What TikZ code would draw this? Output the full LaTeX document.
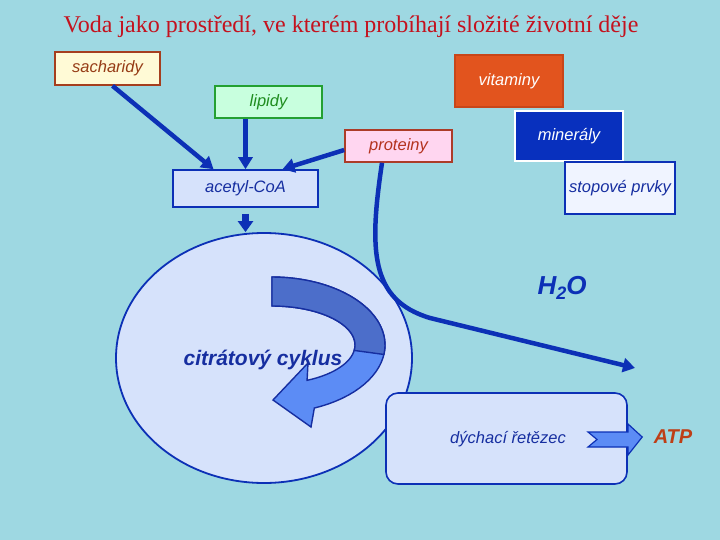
\documentclass[tikz,border=0pt]{standalone}
\usepackage{fontspec}
\setmainfont{Liberation Serif}
\setsansfont{Liberation Sans}
\usetikzlibrary{arrows.meta,shapes.geometric}
\definecolor{voda}{RGB}{158,216,226}
\definecolor{modra}{RGB}{12,48,182}
\definecolor{inkoust}{RGB}{22,46,160}
\definecolor{svetla}{RGB}{214,226,251}
\definecolor{kruhtmavy}{RGB}{76,110,202}
\definecolor{kruhsvetly}{RGB}{92,140,245}
\tikzset{
  ramecek/.style={rectangle, inner sep=0pt, line width=1.6pt, font=\sffamily\itshape\fontsize{16.5}{19}\selectfont},
  sipka/.style={draw=modra, line width=4.5pt, -{Triangle[length=12pt,width=14pt]}},
  tucne/.style={font=\sffamily\bfseries\itshape\fontsize{#1}{#1}\selectfont},
}
\begin{document}
\begin{tikzpicture}[x=1pt,y=-1pt]
\fill[voda] (0,0) rectangle (720,540);
\useasboundingbox (0,0) rectangle (720,540);
\node[font=\fontsize{24}{27}\selectfont, text={rgb,255:red,196;green,18;blue,30}] (nadpis) at (351,27) {Voda jako prostředí, ve kterém probíhají složité životní děje};
\node[ramecek, draw={rgb,255:red,165;green,62;blue,30}, fill={rgb,255:red,255;green,250;blue,214}, text={rgb,255:red,150;green,60;blue,22}, minimum width=105pt, minimum height=33pt] (sacharidy) at (107.5,68.5) {sacharidy};
\node[ramecek, draw={rgb,255:red,200;green,70;blue,25}, fill={rgb,255:red,226;green,84;blue,30}, text=white, minimum width=108pt, minimum height=52pt] (vitaminy) at (509,81) {vitaminy};
\node[ramecek, draw={rgb,255:red,36;green,160;blue,50}, fill={rgb,255:red,200;green,255;blue,222}, text={rgb,255:red,30;green,140;blue,30}, minimum width=107pt, minimum height=32pt] (lipidy) at (268.5,102) {lipidy};
\node[ramecek, draw={rgb,255:red,172;green,60;blue,40}, fill={rgb,255:red,255;green,214;blue,240}, text={rgb,255:red,180;green,50;blue,30}, minimum width=107pt, minimum height=32pt] (proteiny) at (398.5,146) {proteiny};
\node[ramecek, draw=white, fill={rgb,255:red,8;green,48;blue,190}, text=white, minimum width=108pt, minimum height=50pt] (mineraly) at (569,136) {minerály};
\node[ramecek, draw=modra, fill={rgb,255:red,240;green,244;blue,255}, text=inkoust, minimum width=110pt, minimum height=52pt] (stopove) at (620,188) {stopové prvky};
\node[ramecek, draw=modra, fill=svetla, text=inkoust, minimum width=145pt, minimum height=37pt] (acetyl) at (245.5,188.5) {acetyl-CoA};
\draw[sipka] ([xshift=5pt]sacharidy.south) -- ([xshift=-32pt]acetyl.north);
\draw[sipka] (lipidy.south -| acetyl.north) -- (acetyl.north);
\draw[sipka] ([yshift=-4pt]proteiny.west) -- ([xshift=37pt]acetyl.north);
\node[ellipse, draw=modra, fill=svetla, line width=1.8pt, minimum width=296pt, minimum height=250pt] (cyklus) at (264,358) {};
\coordinate (vydej) at (635,368);
\draw[sipka] ([xshift=-16.5pt]proteiny.south) .. controls (369,250) and (370,300) .. (430,318) -- (vydej);
\draw[draw=modra, line width=7pt, -{Triangle[length=11pt,width=15pt]}, shorten <=6pt] (acetyl.south) -- (acetyl.south |- cyklus.north);
\path[fill=kruhsvetly, draw=inkoust, line width=1.4pt] plot[domain=-90:68,samples=40,variable=\t] ({272+113*cos(\t)},{345+68*sin(\t)}) -- (311,427) -- (273,400) -- (308,363) -- plot[domain=65:-90,samples=40,variable=\t] ({272+83*cos(\t)},{345+39*sin(\t)}) -- cycle;
\path[fill=kruhtmavy, draw=inkoust, line width=1.4pt] plot[domain=-90:8,samples=30,variable=\t] ({272+113*cos(\t)},{345+68*sin(\t)}) -- plot[domain=8:-90,samples=30,variable=\t] ({272+83*cos(\t)},{345+39*sin(\t)}) -- cycle;
\node[tucne=21, text=inkoust] (cyklustext) at (263,360) {citrátový cyklus};
\node[ramecek, draw=modra, fill=svetla, text=inkoust, rounded corners=12pt, minimum width=241pt, minimum height=91pt] (dychaci) at (506.5,438.5) {};
\node[font=\sffamily\itshape\fontsize{16.5}{19}\selectfont, text=inkoust] (dychacitext) at (508,439) {dýchací řetězec};
\node[tucne=26, text=modra] (h2o) at (562,288) {H\raisebox{-5pt}{\fontsize{18}{18}\selectfont 2}O};
\node[tucne=20, text={rgb,255:red,190;green,62;blue,22}] (atp) at (673,437) {ATP};
\path[fill=kruhsvetly, draw=modra, line width=1.2pt] (588,432) -- (597,439.5) -- (588,447) -- (628,447) -- (628,455) -- ([xshift=-8pt]atp.west) -- (628,424) -- (628,432) -- cycle;
\end{tikzpicture}
\end{document}
